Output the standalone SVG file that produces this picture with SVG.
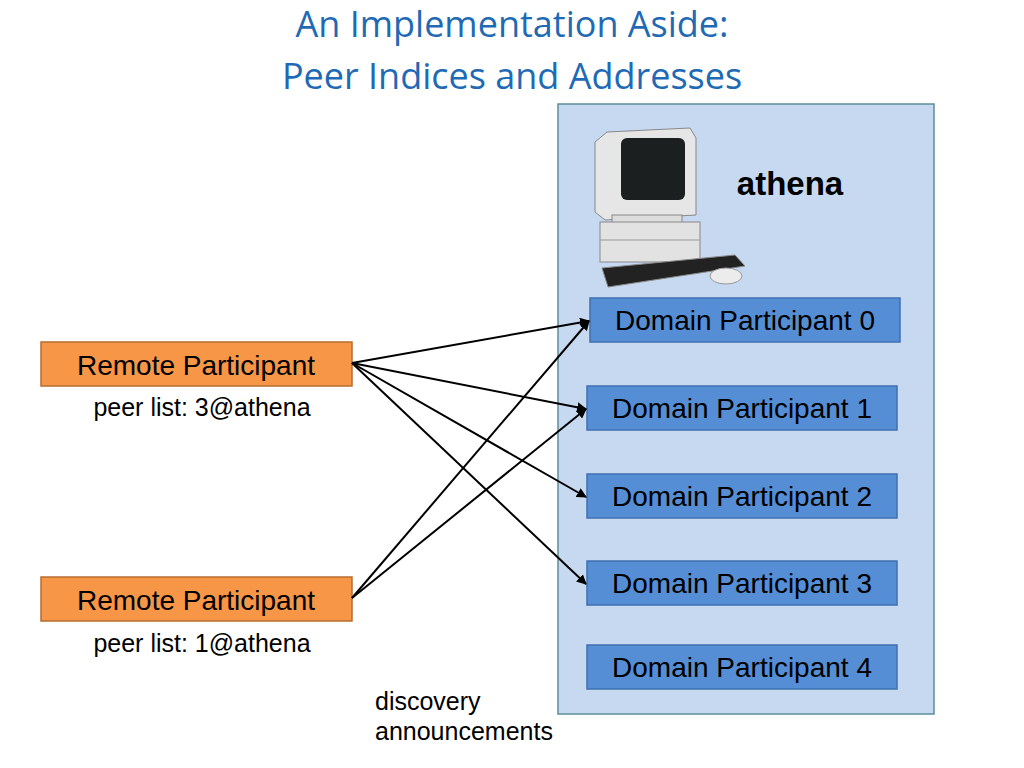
<svg xmlns="http://www.w3.org/2000/svg" width="1024" height="768" viewBox="0 0 1024 768">
<style>
.t{font-family:"Liberation Sans",Arial,sans-serif;fill:#000}
.h{font-family:"Open Sans",sans-serif;fill:#1f6ab5;font-size:36px}
.dp{fill:#558ed5;stroke:#3f6fae;stroke-width:1.5}
.rp{fill:#f79646;stroke:#b66d31;stroke-width:1.5}
.c{stroke:#000;stroke-width:2;fill:none;marker-end:url(#a)}
</style>
<defs><marker id="a" viewBox="0 0 10 10" refX="9" refY="5" markerWidth="5" markerHeight="5" orient="auto"><path d="M0,0L10,5L0,10z" fill="#000"/></marker></defs>
<rect width="1024" height="768" fill="#fff"/>
<text class="h" x="512" y="37" text-anchor="middle">An Implementation Aside:</text>
<text class="h" x="512" y="89" text-anchor="middle">Peer Indices and Addresses</text>
<g id="athena">
<rect x="558" y="104" width="376" height="610" fill="#c6d9f1" stroke="#5e8d9a" stroke-width="1.5"/>
<text class="t" x="790" y="195" text-anchor="middle" font-size="33" font-weight="bold">athena</text>
<g id="computer">
<path d="M595,142 L607,132 L690,128 L696,138 L696,215 L605,220 L595,212 Z" fill="#e6e6e6" stroke="#888"/>
<rect x="621" y="138" width="64" height="62" rx="6" fill="#1b1f1f"/>
<rect x="612" y="215" width="70" height="10" fill="#dcdcdc" stroke="#888"/>
<rect x="600" y="222" width="100" height="40" fill="#e2e2e2" stroke="#888"/>
<line x1="600" y1="240" x2="700" y2="240" stroke="#999"/>
<path d="M602,268 L735,255 L745,266 L608,287 Z" fill="#222" stroke="#888"/>
<ellipse cx="726" cy="276" rx="16" ry="8" fill="#ececec" stroke="#999"/>
</g>
</g>
<g id="dp0"><rect class="dp" x="590" y="298" width="310" height="44"/><text class="t" x="745" y="330" text-anchor="middle" font-size="28">Domain Participant 0</text></g>
<g id="dp1"><rect class="dp" x="587" y="386" width="310" height="44"/><text class="t" x="742" y="418" text-anchor="middle" font-size="28">Domain Participant 1</text></g>
<g id="dp2"><rect class="dp" x="587" y="474" width="310" height="44"/><text class="t" x="742" y="506" text-anchor="middle" font-size="28">Domain Participant 2</text></g>
<g id="dp3"><rect class="dp" x="587" y="561" width="310" height="44"/><text class="t" x="742" y="593" text-anchor="middle" font-size="28">Domain Participant 3</text></g>
<g id="dp4"><rect class="dp" x="587" y="645" width="310" height="44"/><text class="t" x="742" y="677" text-anchor="middle" font-size="28">Domain Participant 4</text></g>
<g id="rp1"><rect class="rp" x="41" y="342" width="311" height="44"/><text class="t" x="196" y="375" text-anchor="middle" font-size="28">Remote Participant</text>
<text class="t" x="202" y="416" text-anchor="middle" font-size="25">peer list: 3@athena</text></g>
<g id="rp2"><rect class="rp" x="41" y="577" width="311" height="44"/><text class="t" x="196" y="610" text-anchor="middle" font-size="28">Remote Participant</text>
<text class="t" x="202" y="652" text-anchor="middle" font-size="25">peer list: 1@athena</text></g>
<text class="t" x="375" y="710" font-size="25">discovery</text>
<text class="t" x="375" y="740" font-size="25">announcements</text>
<g id="connectors">
<line class="c" x1="352" y1="363" x2="589" y2="321"/>
<line class="c" x1="352" y1="363" x2="586" y2="409"/>
<line class="c" x1="352" y1="363" x2="586" y2="497"/>
<line class="c" x1="352" y1="363" x2="586" y2="584"/>
<line class="c" x1="352" y1="598" x2="589" y2="321"/>
<line class="c" x1="352" y1="598" x2="586" y2="409"/>
</g>
</svg>
